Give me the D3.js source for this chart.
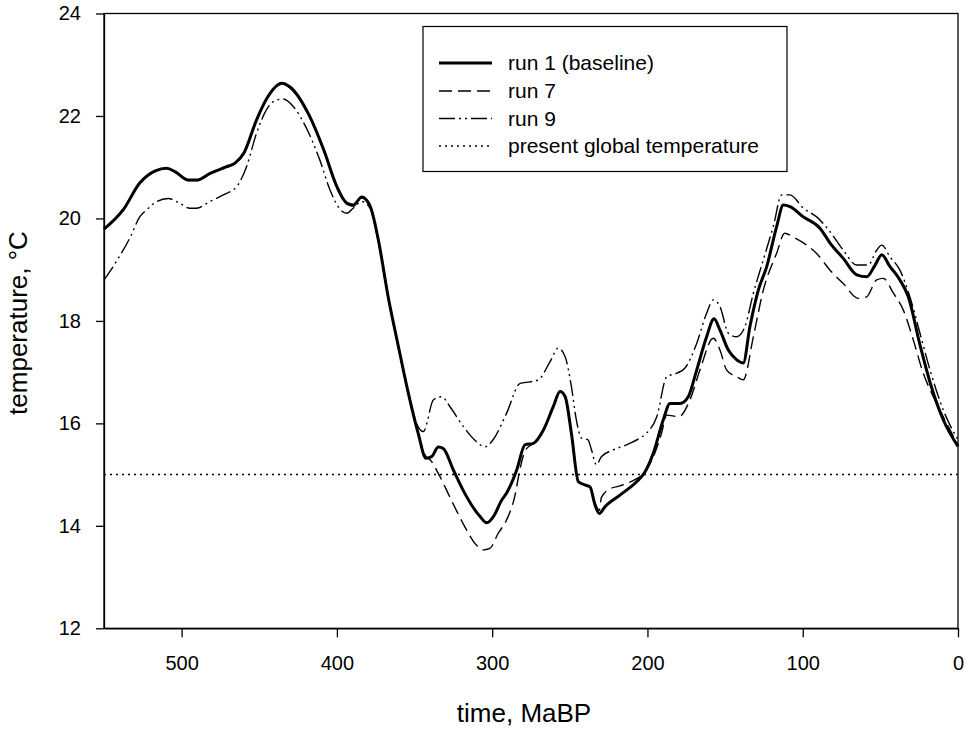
<!DOCTYPE html>
<html>
<head>
<meta charset="utf-8">
<script src="https://cdn.jsdelivr.net/npm/d3@7"></script>
<style>
  html, body { margin: 0; padding: 0; background: #fff; }
  svg { display: block; font-family: "Liberation Sans", Arial, sans-serif; }
</style>
</head>
<body>
<svg id="chart" width="967" height="731"></svg>
<script>
// ---- data: [time (MaBP), temperature (°C)] ----
const run1 = [[550,19.79],[537.6,20.17],[527,20.69],[517,20.93],[509.6,20.98],[504,20.91],[495.7,20.75],[490,20.75],[481.7,20.88],[471,21.01],[465.6,21.08],[460,21.27],[451.8,21.92],[445,22.35],[435.5,22.64],[430,22.56],[418,22.02],[408.5,21.34],[400,20.62],[393.7,20.30],[389.5,20.26],[384,20.42],[378.7,20.25],[373.3,19.58],[367,18.47],[360.4,17.50],[354,16.59],[347.7,15.81],[342.6,15.32],[339,15.35],[334.7,15.54],[331.5,15.51],[325,15.09],[316.5,14.57],[307.8,14.18],[303.5,14.06],[299.2,14.18],[293.9,14.50],[290.7,14.64],[284.2,15.09],[278.9,15.58],[273.5,15.61],[267,15.87],[260.6,16.33],[256.3,16.62],[253,16.52],[249,15.81],[244.5,14.86],[240.4,14.80],[237,14.76],[233.8,14.41],[231,14.24],[227.4,14.37],[217.7,14.60],[207,14.86],[202,15.03],[196.2,15.42],[189.8,16.07],[185.5,16.39],[179,16.39],[173.7,16.52],[168.3,17.04],[161.9,17.69],[157.1,18.04],[153.3,17.82],[147.9,17.43],[142.5,17.24],[138.3,17.18],[134,17.89],[128.6,18.60],[123.2,19.06],[116.8,19.84],[112.5,20.26],[108.2,20.23],[99.6,20.03],[88.9,19.81],[82.4,19.52],[73.9,19.22],[65.2,18.90],[58.8,18.86],[53.4,19.09],[49.1,19.29],[43.8,19.06],[37.4,18.80],[32,18.47],[24.7,17.56],[17.2,16.72],[9.5,16.07],[0,15.55]];

const run7 = [[550,19.78],[537.6,20.16],[527,20.68],[517,20.92],[509.6,20.97],[504,20.90],[495.7,20.74],[490,20.74],[481.7,20.87],[471,21.00],[465.6,21.07],[460,21.26],[451.8,21.91],[445,22.34],[435.5,22.62],[430,22.54],[418,22.00],[408.5,21.32],[400,20.60],[393.7,20.28],[389.5,20.24],[384,20.40],[378.7,20.22],[373.3,19.55],[367,18.45],[360.4,17.48],[354,16.58],[347.7,15.80],[342.6,15.35],[340,15.29],[334.8,15.03],[326.3,14.50],[317.6,13.98],[311.2,13.66],[305.8,13.53],[301.5,13.56],[296.2,13.85],[290.8,14.11],[285.5,14.57],[282.2,15.09],[279,15.45],[275,15.58],[273.5,15.61],[267,15.87],[260.6,16.33],[256.3,16.62],[253,16.52],[249,15.81],[244.5,14.86],[240.4,14.80],[237,14.76],[233.8,14.45],[231,14.30],[229.7,14.55],[224.3,14.72],[217.7,14.78],[207,14.92],[202,15.03],[196.2,15.35],[191,15.80],[187.6,16.16],[180,16.13],[172.6,16.46],[166.2,17.04],[157.6,17.66],[153.3,17.43],[149,17.04],[142.5,16.91],[138.3,16.85],[131.8,17.69],[125.4,18.60],[116.8,19.32],[111.6,19.71],[106.3,19.64],[97.5,19.48],[91.2,19.32],[82.4,18.99],[73.9,18.73],[64.2,18.44],[58.8,18.47],[52.4,18.80],[48.1,18.83],[41.6,18.54],[35.2,18.21],[28.8,17.63],[22.4,16.98],[15.9,16.52],[7.3,16.00],[0,15.58]];

const run9 = [[550,18.80],[540.8,19.22],[533,19.64],[527,20.03],[522.5,20.17],[516,20.33],[508.6,20.39],[502,20.31],[494.7,20.20],[490.5,20.20],[481.7,20.33],[473.2,20.46],[464.6,20.62],[458.2,21.01],[451.8,21.66],[445.4,22.12],[439,22.31],[434.5,22.33],[428,22.18],[420.6,21.82],[411,21.14],[404.5,20.56],[398,20.18],[393.7,20.10],[389.5,20.20],[384,20.33],[378.7,20.20],[373.3,19.55],[367,18.45],[360.4,17.48],[354,16.60],[348,15.95],[344.3,15.84],[337.8,16.46],[332.5,16.52],[327.3,16.33],[318.6,15.94],[310,15.64],[304.8,15.54],[299.4,15.68],[290.7,16.20],[282,16.78],[275.6,16.81],[270.2,16.85],[262.8,17.20],[257.4,17.47],[253,17.30],[249,16.72],[245.8,16.07],[242.5,15.71],[238.3,15.68],[236,15.48],[232.9,15.19],[229.7,15.35],[222.2,15.48],[213.6,15.58],[205,15.71],[200.5,15.81],[194,16.13],[187.6,16.91],[181,16.98],[175.8,17.08],[168.3,17.56],[161.9,18.15],[157.6,18.41],[153.3,18.28],[147.9,17.76],[142.5,17.69],[137.2,17.89],[131.8,18.54],[125.4,19.19],[119,19.84],[113.5,20.46],[108.2,20.46],[99.6,20.20],[91,20.03],[82.4,19.74],[73.9,19.38],[65.2,19.09],[57.8,19.09],[52.4,19.38],[49.1,19.48],[43.8,19.25],[37.4,18.99],[31,18.47],[24.5,17.76],[18,17.04],[9.5,16.26],[0,15.68]];

const presentTemp = 15;
const xTicks = [500, 400, 300, 200, 100, 0];
const yTicks = [12, 14, 16, 18, 20, 22, 24];
const legendLabels = ["run 1 (baseline)", "run 7", "run 9", "present global temperature"];

// ---- drawing ----
const svg = d3.select("#chart");
const L = 104, R = 958, T = 13.5, B = 628.3;

const x = d3.scaleLinear().domain([550, 0]).range([L, R]);
const y = d3.scaleLinear().domain([12, 24]).range([B, T]);

// frame
svg.append("rect").attr("x", L).attr("y", T).attr("width", R - L).attr("height", B - T)
  .attr("fill", "none").attr("stroke", "#000").attr("stroke-width", 1.3);

// axes
const xAxis = svg.append("g").attr("transform", `translate(0,${B})`)
  .call(d3.axisBottom(x).tickValues(xTicks).tickSize(9).tickPadding(19).tickSizeOuter(0));
const yAxis = svg.append("g").attr("transform", `translate(${L},0)`)
  .call(d3.axisLeft(y).tickValues(yTicks).tickSize(8).tickPadding(15).tickSizeOuter(0));
[xAxis, yAxis].forEach(g => {
  g.select(".domain").attr("stroke", "#000").attr("stroke-width", 1.3);
  g.selectAll(".tick line").attr("stroke", "#000").attr("stroke-width", 1.3);
  g.selectAll(".tick text").attr("fill", "#000").style("font-size", "20px")
    .style("font-family", '"Liberation Sans", Arial, sans-serif');
});

// axis titles
svg.append("text").attr("x", 524).attr("y", 722).attr("text-anchor", "middle")
  .style("font-size", "26px").text("time, MaBP");
svg.append("text").attr("transform", `translate(27,323) rotate(-90)`)
  .attr("text-anchor", "middle").style("font-size", "26px").text("temperature, °C");

// lines
const line = d3.line().x(d => x(d[0])).y(d => y(d[1])).curve(d3.curveMonotoneX);
const styles = [
  { data: run9, w: 1.4, dash: "16,4,2,4,2,4" },
  { data: run7, w: 1.4, dash: "13,6" },
  { data: run1, w: 3, dash: null }
];
styles.forEach(s => {
  svg.append("path").datum(s.data).attr("d", line).attr("fill", "none")
    .attr("stroke", "#000").attr("stroke-width", s.w)
    .attr("stroke-linejoin", "round")
    .attr("stroke-dasharray", s.dash);
});

// present global temperature
svg.append("line").attr("x1", L).attr("x2", R).attr("y1", y(presentTemp)).attr("y2", y(presentTemp))
  .attr("stroke", "#000").attr("stroke-width", 1.5).attr("stroke-dasharray", "2,4");

// legend
const lg = svg.append("g");
lg.append("rect").attr("x", 423).attr("y", 26.5).attr("width", 364).attr("height", 145)
  .attr("fill", "#fff").attr("stroke", "#000").attr("stroke-width", 1.2);
const legStyles = [
  { w: 3, dash: null }, { w: 1.4, dash: "13,6" }, { w: 1.4, dash: "16,4,2,4,2,4" }, { w: 1.5, dash: "2,4" }
];
const rowY = [63, 91, 118.5, 146];
legendLabels.forEach((lab, i) => {
  lg.append("line").attr("x1", 439).attr("x2", 492).attr("y1", rowY[i]).attr("y2", rowY[i])
    .attr("stroke", "#000").attr("stroke-width", legStyles[i].w).attr("stroke-dasharray", legStyles[i].dash);
  lg.append("text").attr("x", 508).attr("y", rowY[i]).attr("dy", "0.35em")
    .style("font-size", "21px").text(lab);
});
</script>
</body>
</html>
